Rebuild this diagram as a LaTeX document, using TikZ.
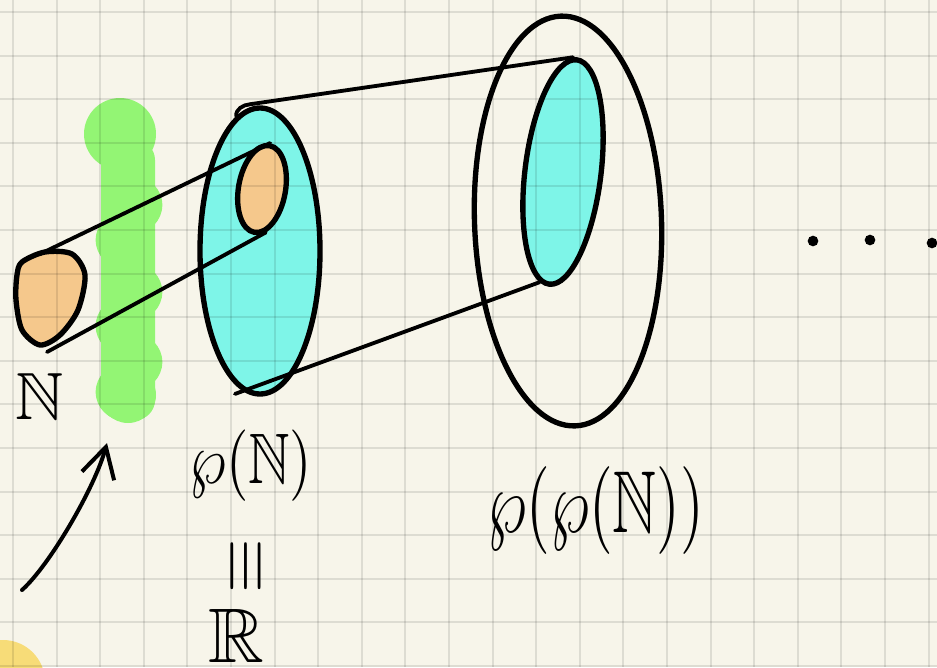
\documentclass[tikz,border=0pt]{standalone}
\usepackage{amsmath, amssymb}
\usepackage{graphicx}
\usetikzlibrary{shapes.geometric, arrows.meta}
\definecolor{paper}{RGB}{247, 245, 234}
\definecolor{setcyan}{RGB}{126, 245, 232}
\definecolor{setorange}{RGB}{245, 200, 140}
\definecolor{markgreen}{RGB}{147, 245, 116}
\definecolor{markyellow}{RGB}{247, 220, 120}

\begin{document}
\begin{tikzpicture}[x=0.3mm, y=-0.3mm,
  setblob/.style={ellipse, draw=black, line width=1.6mm, inner sep=0pt},
  link/.style={draw=black, line width=1.15mm, line cap=round},
  hand/.style={inner sep=0pt, text=black},
  dotmark/.style={circle, fill=black, inner sep=0pt, minimum size=3.2mm},
  gridline/.style={draw=black, opacity=0.1, line width=0.6mm}
]
  \useasboundingbox (0,0) rectangle (937,667);
  \clip (0,0) rectangle (937,667);
  \fill[paper] (0,0) rectangle (937,667);
  \fill[markyellow] (3,682) circle[radius=12.6mm];

  % highlighter stroke
  \fill[markgreen, rounded corners=6mm] (101,140) rectangle (155,420);
  \fill[markgreen] (120,134) circle[radius=10.8mm];
  \foreach \gy in {205,292,362}
    \fill[markgreen] (134,\gy) circle[radius=8.5mm];
  \foreach \gy in {240,326,392}
    \fill[markgreen] (124,\gy) circle[radius=8.5mm];
  \fill[markgreen] (128,395) circle[radius=8.4mm];

  % N
  \draw[line width=1.6mm, fill=setorange] plot[smooth cycle] coordinates {(22,262) (45,252) (72,254) (85,275) (78,310) (60,335) (40,345) (22,330) (16,300) (17,275)};
  \coordinate (natTop) at (40,254);
  \coordinate (natBot) at (47,352);

  \node[setblob, fill=setcyan, minimum width=36mm, minimum height=85.8mm] (pn) at (260,251) {};
  \node[setblob, fill=setorange, minimum width=14.1mm, minimum height=26.4mm, rotate=-10] (pnin) at (262,189) {};
  \node[setblob, minimum width=56.1mm, minimum height=123mm, rotate=2] (ppn) at (568,221) {};
  \node[setblob, fill=setcyan, minimum width=22.8mm, minimum height=67.8mm, rotate=-7] (ppin) at (563,172) {};

  \draw[link] (natTop) -- (pnin.north);
  \draw[link] (natBot) -- (pnin.285);
  \draw[link] (pn.100) to[out=95, in=185] ++(14,-12) -- (ppin.92);
  \draw[link, shorten <=-2.5mm] (pn.263) -- (ppin.265);

  % labels
  \node[hand] (natlbl) at (40,396) {\scalebox{5.7}{$\mathbb{N}$}};
  \node[hand] (pnlbl) at (251,466) {\scalebox{4.9}[6.1]{$\wp(\mathbb{N})$}};
  \node[hand, rotate=90] (iso) at (247,566) {\scalebox{6}{$\equiv$}};
  \node[hand] (reals) at (236,636) {\scalebox{6.6}{$\mathbb{R}$}};
  \node[hand] (ppnlbl) at (596,511) {\scalebox{5.2}[7.5]{$\wp(\wp(\mathbb{N}))$}};

  \foreach \dx/\dy [count=\i] in {813/241, 870/240, 932/243}
    \node[dotmark] (dot\i) at (\dx,\dy) {};

  % arrow to the highlighter
  \coordinate (tail) at (22,590);
  \coordinate (aim) at (107,443);
  \draw[line width=1.2mm, line cap=round, -{Straight Barb[length=9mm, width=10mm]}] (tail) .. controls (50,565) and (95,487) .. (aim);

  % squared paper
  \foreach \k in {0,...,21}
    \draw[gridline] ({13+43.6*\k},0) -- ({13+43.6*\k},667);
  \foreach \k in {0,...,15}
    \draw[gridline] (0,{12+43.6*\k}) -- (937,{12+43.6*\k});
\end{tikzpicture}
\end{document}
